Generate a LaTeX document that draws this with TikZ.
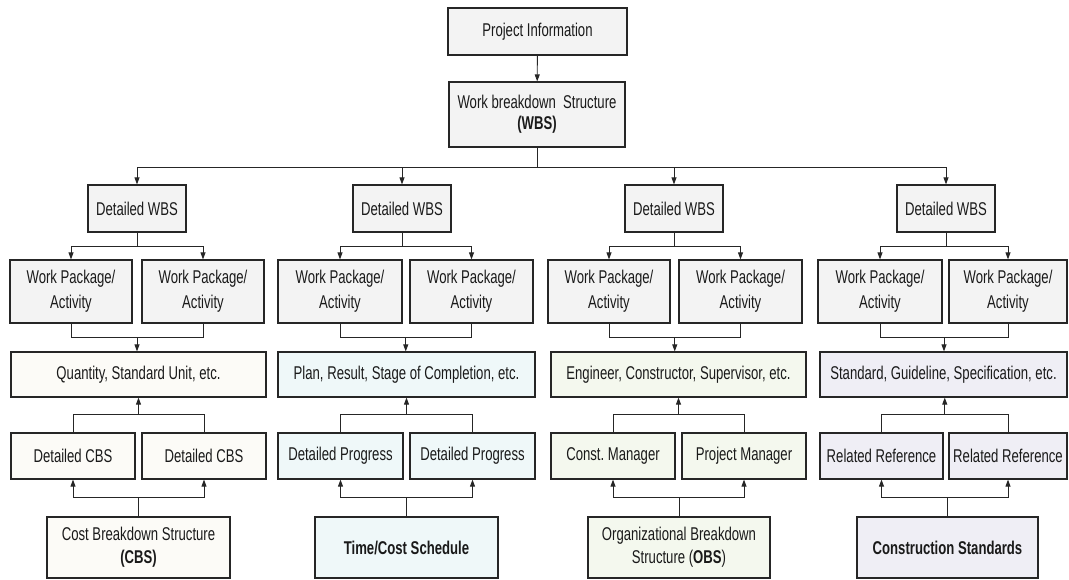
\documentclass[tikz,border=0pt]{standalone}
\usepackage{fontspec}
\setmainfont[FakeStretch=0.71]{Liberation Sans}
\usetikzlibrary{arrows.meta,calc}
\frenchspacing

\definecolor{boxline}{HTML}{262626}
\definecolor{linecol}{HTML}{262626}
\definecolor{textcol}{HTML}{1A1A1A}
\definecolor{wbsfill}{HTML}{F3F3F3}
\definecolor{cbsfill}{HTML}{FCFBF7}
\definecolor{timefill}{HTML}{EFF8F9}
\definecolor{obsfill}{HTML}{F4F8EE}
\definecolor{stdfill}{HTML}{EFEEF5}

\begin{document}
\begin{tikzpicture}[x=1pt,y=-1pt,
  box/.style={draw=boxline, line width=1.2pt, inner sep=0pt, align=center,
    text=textcol, font=\fontsize{18.5}{21}\selectfont},
  sz/.style 2 args={minimum width=#1pt, minimum height=#2pt},
  link/.style={draw=linecol, line width=0.9pt},
  arr/.style={link, -{Triangle[length=7pt,width=5pt]}}]

\useasboundingbox (0,0) rectangle (1069,579);

% top of the hierarchy
\node[box, fill=wbsfill, sz={179}{47}] (pi) at (537.5,31.5) {Project Information};
\node[box, fill=wbsfill, sz={176}{65}] (wbs) at (537,114.5)
  {Work breakdown~ Structure\\\textbf{(WBS)}};

% detailed WBS row
\node[box, fill=wbsfill, sz={98}{47}] (dw1) at (137,208.5) {Detailed WBS};
\node[box, fill=wbsfill, sz={98}{47}] (dw2) at (402,208.5) {Detailed WBS};
\node[box, fill=wbsfill, sz={98}{47}] (dw3) at (674,208.5) {Detailed WBS};
\node[box, fill=wbsfill, sz={98}{47}] (dw4) at (946,208.5) {Detailed WBS};

% work packages
\node[box, fill=wbsfill, sz={122}{63}] (wp1a) at (71,291.5) {Work Package/\\[4pt]Activity};
\node[box, fill=wbsfill, sz={122}{63}] (wp1b) at (203,291.5) {Work Package/\\[4pt]Activity};
\node[box, fill=wbsfill, sz={124}{63}] (wp2a) at (340,291.5) {Work Package/\\[4pt]Activity};
\node[box, fill=wbsfill, sz={123}{63}] (wp2b) at (471.5,291.5) {Work Package/\\[4pt]Activity};
\node[box, fill=wbsfill, sz={122}{63}] (wp3a) at (609,291.5) {Work Package/\\[4pt]Activity};
\node[box, fill=wbsfill, sz={123}{63}] (wp3b) at (740.5,291.5) {Work Package/\\[4pt]Activity};
\node[box, fill=wbsfill, sz={124}{63}] (wp4a) at (880,291.5) {Work Package/\\[4pt]Activity};
\node[box, fill=wbsfill, sz={118}{63}] (wp4b) at (1008,291.5) {Work Package/\\[4pt]Activity};

% attribute boxes
\node[box, fill=cbsfill, sz={255}{45}] (q1) at (138.5,374.5) {Quantity, Standard Unit, etc.};
\node[box, fill=timefill, sz={257}{45}] (q2) at (406.5,374.5) {Plan, Result, Stage of Completion, etc.};
\node[box, fill=obsfill, sz={255}{45}] (q3) at (678.5,374.5) {Engineer, Constructor, Supervisor, etc.};
\node[box, fill=stdfill, sz={247}{45}] (q4) at (943.5,374.5) {Standard, Guideline, Specification, etc.};

% detail boxes
\node[box, fill=cbsfill, sz={124}{46}] (d1a) at (73,456) {Detailed CBS};
\node[box, fill=cbsfill, sz={124}{46}] (d1b) at (204,456) {Detailed CBS};
\node[box, fill=timefill, sz={125}{46}] (d2a) at (340.5,456) {Detailed Progress};
\node[box, fill=timefill, sz={125}{46}] (d2b) at (472.5,456) {Detailed Progress};
\node[box, fill=obsfill, sz={124}{46}] (d3a) at (613,456) {Const. Manager};
\node[box, fill=obsfill, sz={124}{46}] (d3b) at (744,456) {Project Manager};
\node[box, fill=stdfill, sz={123}{46}] (d4a) at (881.5,456) {Related Reference};
\node[box, fill=stdfill, sz={118}{46}] (d4b) at (1008,456) {Related Reference};

% source structures
\node[box, fill=cbsfill, sz={183}{61}] (b1) at (138.5,547.5)
  {Cost Breakdown Structure\\[2pt]\textbf{(CBS)}};
\node[box, fill=timefill, sz={183}{61}] (b2) at (406.5,547.5) {\textbf{Time/Cost Schedule}};
\node[box, fill=obsfill, sz={182}{61}] (b3) at (679,547.5)
  {Organizational Breakdown\\[2pt]Structure (\textbf{OBS})};
\node[box, fill=stdfill, sz={181}{61}] (b4) at (947.5,547.5) {\textbf{Construction Standards}};

% connectors
\draw[arr] (pi) -- (wbs);
\coordinate (tb) at ($(wbs.south)+(0,20)$);
\draw[link] (wbs.south) -- (tb);

\foreach \i in {1,2,3,4} {
  \draw[arr] (tb) -| (dw\i.north);
  \coordinate (s\i) at ($(dw\i.south)+(0,14)$);
  \draw[link] (dw\i.south) -- (s\i);
  \draw[arr] (s\i) -| (wp\i a.north);
  \draw[arr] (s\i) -| (wp\i b.north);
  \coordinate (j\i) at ($(wp\i a.south)!0.5!(wp\i b.south)+(0,14)$);
  \draw[link] (wp\i a.south) |- (j\i) -| (wp\i b.south);
  \draw[arr] (j\i) -- (j\i |- q\i.north);
  \coordinate (k\i) at ($(d\i a.north)!0.5!(d\i b.north)+(0,-18)$);
  \draw[link] (d\i a.north) |- (k\i) -| (d\i b.north);
  \draw[arr] (k\i) -- (k\i |- q\i.south);
  \coordinate (m\i) at ($(b\i.north)+(0,-19)$);
  \draw[link] (b\i.north) -- (m\i);
  \draw[arr] (m\i) -| (d\i a.south);
  \draw[arr] (m\i) -| (d\i b.south);
}
\end{tikzpicture}
\end{document}
